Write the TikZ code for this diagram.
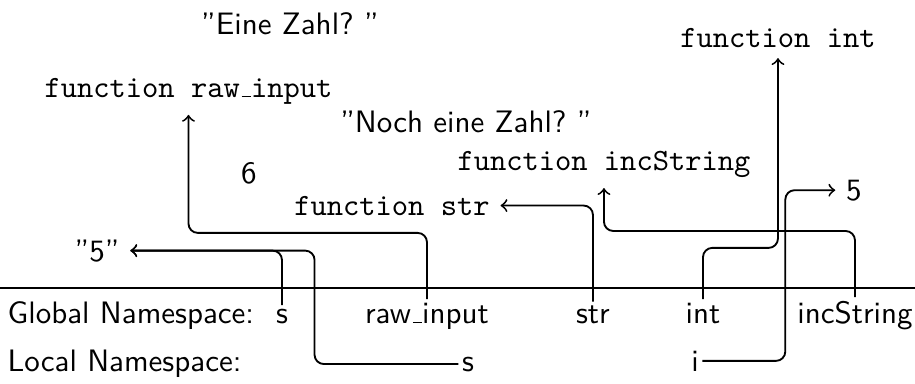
\documentclass[tikz,border=0pt]{standalone}
% trattino basso corto, come in OT1
\newcommand{\trattino}{\leavevmode\kern.06em\vbox{\hrule width.3em}}
\begin{document}
\begin{tikzpicture}[
    nome/.style={font=\sffamily, inner sep=1pt, anchor=base},
    valore/.style={font=\sffamily, anchor=base},
    funz/.style={font=\ttfamily, anchor=base},
    rif/.style={->, semithick, rounded corners=3pt}]
    \useasboundingbox (0,0) rectangle (10.375,4.343);

    % Linea base
    \draw[thick] (0,1.077) -- (10.375,1.077);

    % Namespace
    \node[nome, anchor=base west] (glob) at (0.045,0.680) {Global Namespace:};
    \node[nome, anchor=base west] (loc) at (0.045,0.136) {Local Namespace:};
    \node[nome] (gs) at (3.197,0.680) {s};
    \node[nome] (graw) at (4.841,0.680) {raw\trattino input};
    \node[nome] (gstr) at (6.723,0.680) {str};
    \node[nome] (gint) at (7.971,0.680) {int};
    \node[nome] (ginc) at (9.694,0.680) {incString};
    \node[nome] (ls) at (5.306,0.136) {s};
    \node[nome] (li) at (7.880,0.136) {i};

    % Oggetti
    \node[valore] (eine) at (3.288,3.957) {''Eine Zahl?~''};
    \node[funz] (fraw) at (2.137,3.243) {function raw\trattino input};
    \node[valore] (noch) at (5.283,2.846) {''Noch eine Zahl?~''};
    \node[funz] (finc) at (6.848,2.415) {function incString};
    \node[valore] (sei) at (2.823,2.268) {6};
    \node[funz] (fstr) at (4.444,1.905) {function str};
    \node[valore] (cinque) at (1.100,1.383) {''5''};
    \node[funz] (fint) at (8.821,3.810) {function int};
    \node[valore] (cinquei) at (9.683,2.075) {5};

    % Riferimenti
    \draw[rif] (gs.north) |- (cinque.east);
    \draw[rif] (ls.west) -- ++(-1.63,0) |- (cinque.east);
    \draw[rif] (graw.north) -- ++(0,0.75) -| (fraw.south);
    \draw[rif] (gstr.north) |- (fstr.east);
    \draw[rif] (ginc.north) -- ++(0,0.75) -| (finc.south);
    \draw[rif] (gint.north) -- ++(0,0.58) -| (fint.south);
    \draw[rif] (li.east) -- ++(0.94,0) |- (cinquei.west);
\end{tikzpicture}
\end{document}
